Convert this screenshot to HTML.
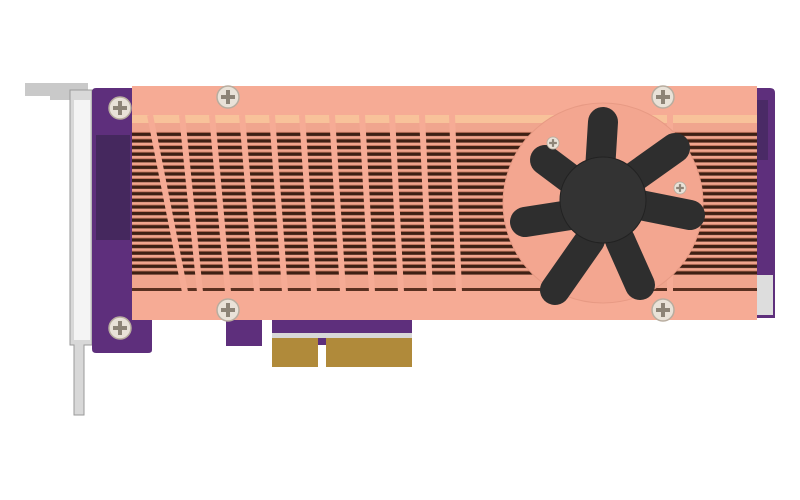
<!DOCTYPE html>
<html><head><style>html,body{margin:0;padding:0;background:#fff;width:800px;height:500px;overflow:hidden}</style></head>
<body>
<svg width="800" height="500" viewBox="0 0 800 500" xmlns="http://www.w3.org/2000/svg">
<defs>
<pattern id="fins" x="0" y="130" width="10" height="6.6" patternUnits="userSpaceOnUse">
<rect width="10" height="6.6" fill="#f0a58e"/>
<rect y="2.8" width="10" height="3.2" fill="#3e2014"/>
<rect y="2" width="10" height="0.8" fill="#b86e56"/>
</pattern>
<g id="screw"><circle r="11" fill="#e9e2d8" stroke="#b8ad9f" stroke-width="1.5"/><path d="M-2,-7h4v5h5v4h-5v5h-4v-5h-5v-4h5z" fill="#8d8477"/></g>
</defs>
<path d="M25,83 H88 V100 H50 V96 H25 Z" fill="#c9c9c9"/>
<path d="M70,90 H92 V345 H84 V415 H74 V345 H70 Z" fill="#d8d8d8" stroke="#9a9a9a"/>
<rect x="74" y="100" width="16" height="240" fill="#f4f4f4"/>
<path d="M92,92 Q92,88 96,88 H770 Q775,88 775,93 V318 H412 V345 H272 V320 H262 V346 H226 V320 H152 V350 Q152,353 148,353 H96 Q92,353 92,349 Z" fill="#5e2f7c"/>
<rect x="96" y="135" width="34" height="105" fill="#45285e"/>
<rect x="272" y="335" width="46" height="32" fill="#b08a3a"/>
<rect x="326" y="335" width="86" height="32" fill="#b08a3a"/>
<rect x="272" y="333" width="140" height="5" fill="#d8d8d8"/>
<rect x="750" y="100" width="18" height="60" fill="#4a2a66"/>
<rect x="757" y="275" width="16" height="40" fill="#ddd"/>
<rect x="132" y="86" width="625" height="234" fill="#f6ab95"/>
<rect x="132" y="130" width="625" height="160" fill="url(#fins)"/>
<rect x="132" y="115" width="625" height="10" fill="#f8c29a"/>
<rect x="132" y="123" width="625" height="7" fill="#f0a58e"/>
<rect x="132" y="276" width="625" height="14" fill="#f0a58e"/>
<rect x="132" y="288" width="625" height="3" fill="#5a3020"/>
<g stroke="#f6ab95" stroke-width="6">
<line x1="150" y1="115" x2="185" y2="292"/>
<line x1="182" y1="115" x2="200" y2="292"/>
<line x1="212" y1="115" x2="228" y2="292"/>
<line x1="242" y1="115" x2="257" y2="292"/>
<line x1="272" y1="115" x2="285" y2="292"/>
<line x1="302" y1="115" x2="314" y2="292"/>
<line x1="332" y1="115" x2="343" y2="292"/>
<line x1="362" y1="115" x2="372" y2="292"/>
<line x1="392" y1="115" x2="401" y2="292"/>
<line x1="422" y1="115" x2="430" y2="292"/>
<line x1="452" y1="115" x2="459" y2="292"/>
<line x1="670" y1="115" x2="670" y2="292"/>
</g>
<circle cx="603" cy="203" r="100" fill="#f3a690" stroke="#e79a84"/>
<g stroke="#2e2e2e" stroke-width="30" stroke-linecap="round" fill="none">
<line x1="603" y1="122" x2="600" y2="170"/>
<line x1="545" y1="160" x2="585" y2="190"/>
<line x1="525" y1="222" x2="570" y2="215"/>
<line x1="555" y1="290" x2="590" y2="240"/>
<line x1="640" y1="285" x2="620" y2="240"/>
<line x1="690" y1="215" x2="640" y2="205"/>
<line x1="675" y1="148" x2="630" y2="180"/>
</g>
<circle cx="603" cy="200" r="43" fill="#333" stroke="#222"/>
<g transform="translate(553,143) scale(0.55)"><use href="#screw"/></g>
<g transform="translate(680,188) scale(0.55)"><use href="#screw"/></g>
<use href="#screw" x="228" y="97"/>
<use href="#screw" x="663" y="97"/>
<use href="#screw" x="228" y="310"/>
<use href="#screw" x="663" y="310"/>
<use href="#screw" x="120" y="108"/>
<use href="#screw" x="120" y="328"/>
</svg>
</body></html>
